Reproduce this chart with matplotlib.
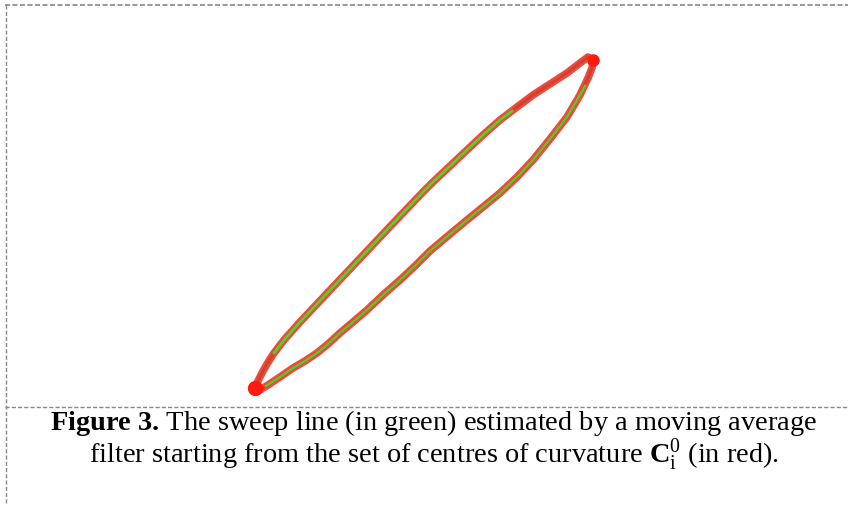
import matplotlib.pyplot as plt

plt.rcParams["font.family"] = ["Liberation Serif", "DejaVu Serif"]
plt.rcParams["mathtext.fontset"] = "custom"
plt.rcParams["mathtext.rm"] = "Liberation Serif"
plt.rcParams["mathtext.it"] = "Liberation Serif:italic"
plt.rcParams["mathtext.bf"] = "Liberation Serif:bold"

# centres of curvature (red) in pixel units
# upper branch from the bottom tip to the top tip, then lower branch back
red_x = [255, 258, 262, 267, 274, 284, 300, 317, 333, 350, 367, 383, 400, 423,
         433, 450, 467, 483, 500, 517, 533, 550, 567, 580, 588, 593,
         592, 588, 580, 567, 550, 533, 517, 500, 483, 467, 443, 430, 415, 400,
         383, 367, 353, 340, 328, 317, 305, 293, 280, 268, 260, 255]
red_y = [388, 381, 373, 364, 353, 340, 322, 304, 287, 269, 251, 234, 216, 192,
         182, 166, 150, 135, 120, 107, 95, 84, 73, 63, 57, 60,
         68, 78, 95, 117, 139, 160, 177, 193, 207, 220, 240, 251, 266, 280,
         295, 310, 322, 333, 344, 353, 361, 368, 377, 385, 390, 388]

# sweep line (green), upper branch and lower branch
green_up_x = [274, 284, 300, 317, 333, 350, 367, 383, 400, 423, 433, 450, 467,
              483, 500, 512]
green_up_y = [353, 340, 322, 304, 287, 269, 251, 234, 216, 192, 182, 166, 150,
              135, 120, 111]
green_lo_x = [585, 580, 567, 550, 533, 517, 500, 483, 467, 443, 430, 415, 400,
              383, 367, 353, 340, 328, 317, 305, 293, 280, 266]
green_lo_y = [86, 95, 117, 139, 160, 177, 193, 207, 220, 240, 251, 266, 280,
              295, 310, 322, 333, 344, 353, 361, 368, 377, 386]

line1 = r"$\mathbf{Figure\ 3.\,}$The sweep line (in green) estimated by a moving average"
line2 = r"filter starting from the set of centres of curvature $\mathbf{C}^{0}_{\mathrm{i}}$ (in red)."

fig = plt.figure(figsize=(8.48, 5.05), dpi=100)
ax = fig.add_axes([0, 0, 1, 1])
ax.set_xlim(0, 848)
ax.set_ylim(505, 0)
ax.axis("off")

# dashed frame
ax.plot([5, 848], [5, 5], color="#888888", lw=1.2, ls=(0, (3, 1.5)))
ax.plot([6, 6], [5, 505], color="#888888", lw=1.0, ls=(0, (3, 1.5)))
ax.plot([5, 848], [407, 407], color="#888888", lw=1.0, ls=(0, (3, 1.5)))

# red cloud + green sweep line
ax.plot(red_x, red_y, color="#f02a1c", lw=5.5, alpha=0.85,
        solid_capstyle="round", solid_joinstyle="round")
ax.plot(red_x, red_y, color="#b84020", lw=2.4, alpha=0.6, solid_joinstyle="round")
ax.plot(red_x[:1], red_y[:1], "o", color="#ff1a10", ms=10)
ax.plot(red_x[25:26], red_y[25:26], "o", color="#ff1a10", ms=8)
ax.plot(green_up_x, green_up_y, color="#4fdc28", lw=2.0, alpha=0.95,
        solid_joinstyle="round")
ax.plot(green_lo_x, green_lo_y, color="#4fdc28", lw=1.8, alpha=0.85,
        solid_joinstyle="round")

ax.text(434, 423, line1, ha="center", va="center", fontsize=20.4)
ax.text(434, 455, line2, ha="center", va="center", fontsize=20.4)

fig.savefig("out.png", dpi=100)
